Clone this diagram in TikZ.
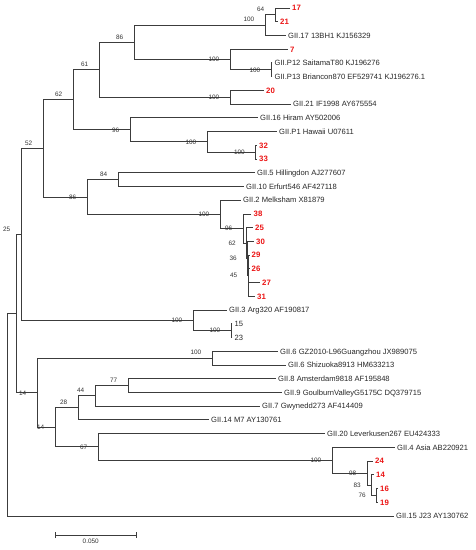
\documentclass[tikz,border=0pt]{standalone}
\usepackage{fontspec}
\setmainfont{Liberation Sans}
\usetikzlibrary{arrows.meta}
\definecolor{redc}{RGB}{235,20,20}
\definecolor{linec}{RGB}{60,60,60}
\tikzset{
  leaf/.style={anchor=west, inner xsep=2.5pt, inner ysep=0pt, text height=5.5pt, text depth=0pt,
    font=\fontsize{7.6}{9}\selectfont, text=black!85},
  rleaf/.style={leaf, font=\fontsize{7.8}{9}\selectfont\bfseries, text=redc, text height=5.6pt},
  bsup/.style={anchor=east, inner sep=0pt, xshift=-10.5pt, yshift=5.5pt,
    font=\fontsize{6.4}{7}\selectfont, text=black!80},
  bsdn/.style={bsup, yshift=-5.5pt},
  br/.style={draw=linec, line width=0.9pt, line cap=rect},
}
\begin{document}
\begin{tikzpicture}[x=1pt,y=-1pt]
\useasboundingbox (0,0) rectangle (476,550);
% ---------- leaves ----------
\node[rleaf] (l17)  at (289.5,8.0)   {17};
\node[rleaf] (l21)  at (277.5,21.7)  {21};
\node[leaf]  (lG17) at (285.5,35.5)  {GII.17 13BH1 KJ156329};
\node[rleaf] (l7)   at (287.5,49.2)  {7};
\node[leaf]  (lP12) at (272,62.9)    {GII.P12 SaitamaT80 KJ196276};
\node[leaf]  (lP13) at (272,76.7)    {GII.P13 Briancon870 EF529741 KJ196276.1};
\node[rleaf] (l20)  at (263.5,90.4)  {20};
\node[leaf]  (lG21) at (290.5,104.1) {GII.21 IF1998 AY675554};
\node[leaf]  (lG16) at (257.5,117.8) {GII.16 Hiram AY502006};
\node[leaf]  (lP1)  at (276.5,131.6) {GII.P1 Hawaii U07611};
\node[rleaf] (l32)  at (256.5,145.3) {32};
\node[rleaf] (l33)  at (256.5,159.0) {33};
\node[leaf]  (lG5)  at (254.5,172.8) {GII.5 Hillingdon AJ277607};
\node[leaf]  (lG10) at (243.5,186.5) {GII.10 Erfurt546 AF427118};
\node[leaf]  (lG2)  at (240.5,200.2) {GII.2 Melksham X81879};
\node[rleaf] (l38)  at (251,214.0)   {38};
\node[rleaf] (l25)  at (252.5,227.7) {25};
\node[rleaf] (l30)  at (253.5,241.4) {30};
\node[rleaf] (l29)  at (249,255.1)   {29};
\node[rleaf] (l26)  at (249,268.9)   {26};
\node[rleaf] (l27)  at (259.5,282.6) {27};
\node[rleaf] (l31)  at (254.5,296.3) {31};
\node[leaf]  (lG3)  at (226.5,310.1) {GII.3 Arg320 AF190817};
\node[leaf]  (l15)  at (232,323.8)   {15};
\node[leaf]  (l23)  at (232,337.5)   {23};
\node[leaf]  (lG6a) at (277.5,351.3) {GII.6 GZ2010-L96Guangzhou JX989075};
\node[leaf]  (lG6b) at (285.5,365.0) {GII.6 Shizuoka8913 HM633213};
\node[leaf]  (lG8)  at (275.5,378.7) {GII.8 Amsterdam9818 AF195848};
\node[leaf]  (lG9)  at (281.5,392.4) {GII.9 GoulburnValleyG5175C DQ379715};
\node[leaf]  (lG7)  at (259.5,406.2) {GII.7 Gwynedd273 AF414409};
\node[leaf]  (lG14) at (208.5,419.9) {GII.14 M7 AY130761};
\node[leaf]  (lG20) at (324.5,433.6) {GII.20 Leverkusen267 EU424333};
\node[leaf]  (lG4)  at (394.5,447.4) {GII.4 Asia AB220921};
\node[rleaf] (l24)  at (372.5,461.1) {24};
\node[rleaf] (l14)  at (373.5,474.8) {14};
\node[rleaf] (l16)  at (377.5,488.6) {16};
\node[rleaf] (l19)  at (377.5,502.3) {19};
\node[leaf]  (lG15) at (393.5,516.0) {GII.15 J23 AY130762};
% ---------- internal nodes ----------
\coordinate (root) at (7,414.8);
\coordinate (nA)   at (16,313.6);
\coordinate (n25)  at (21,234.4);
\coordinate (n52)  at (43,148.4);
\coordinate (n62)  at (73,99.8);
\coordinate (n61)  at (99,69.8);
\coordinate (n86a) at (134,42.3);
\coordinate (n100a) at (265,25.2);
\coordinate (n64)  at (275,14.85);
\coordinate (n100b) at (230,59.5);
\coordinate (n100c) at (271,69.8);
\coordinate (n100d) at (230,97.25);
\coordinate (n96)  at (130,129.8);
\coordinate (n100e) at (207,141.9);
\coordinate (n100f) at (255.5,152.2);
\coordinate (n86b) at (87,197);
\coordinate (n84)  at (118,179.6);
\coordinate (n100h) at (220,214.4);
\coordinate (n96c) at (243,228.5);
\coordinate (n62c) at (246.5,243.1);
\coordinate (n36c) at (247.5,258.6);
\coordinate (n45c) at (248,275.7);
\coordinate (nX1)  at (248.5,262);
\coordinate (nX2)  at (248.5,289.5);
\coordinate (n100g) at (193,320.4);
\coordinate (n100i) at (231,330.6);
\coordinate (n14a) at (37,392.8);
\coordinate (n100j) at (212,358.1);
\coordinate (n14b) at (55,427.4);
\coordinate (n28)  at (78,407.9);
\coordinate (n44)  at (95,395.9);
\coordinate (n77)  at (128,385.6);
\coordinate (n67)  at (98,446.9);
\coordinate (n100k) at (332,460.2);
\coordinate (n98)  at (367,473.1);
\coordinate (n83)  at (371.5,485.1);
\coordinate (n76)  at (376.5,495.4);
% ---------- branches ----------
\draw[br] (root) |- (nA);   \draw[br] (root) |- (lG15.west);
\draw[br] (nA) |- (n25);    \draw[br] (nA) |- (n14a);
\draw[br] (n25) |- (n52);   \draw[br] (n25) |- (n100g);
\draw[br] (n52) |- (n62);   \draw[br] (n52) |- (n86b);
\draw[br] (n62) |- (n61);   \draw[br] (n62) |- (n96);
\draw[br] (n61) |- (n86a);  \draw[br] (n61) |- (n100d);
\draw[br] (n86a) |- (n100a); \draw[br] (n86a) |- (n100b);
\draw[br] (n100a) |- (n64); \draw[br] (n100a) |- (lG17.west);
\draw[br] (n64) |- (l17.west); \draw[br] (n64) |- (l21.west);
\draw[br] (n100b) |- (l7.west); \draw[br] (n100b) |- (n100c);
\draw[br] (n100c) |- (lP12.west); \draw[br] (n100c) |- (lP13.west);
\draw[br] (n100d) |- (l20.west); \draw[br] (n100d) |- (lG21.west);
\draw[br] (n96) |- (lG16.west); \draw[br] (n96) |- (n100e);
\draw[br] (n100e) |- (lP1.west); \draw[br] (n100e) |- (n100f);
\draw[br] (n100f) |- (l32.west); \draw[br] (n100f) |- (l33.west);
\draw[br] (n86b) |- (n84);  \draw[br] (n86b) |- (n100h);
\draw[br] (n84) |- (lG5.west); \draw[br] (n84) |- (lG10.west);
\draw[br] (n100h) |- (lG2.west); \draw[br] (n100h) |- (n96c);
\draw[br] (n96c) |- (l38.west); \draw[br] (n96c) |- (n62c);
\draw[br] (n62c) |- (l25.west); \draw[br] (n62c) |- (n36c);
\draw[br] (n36c) |- (l30.west); \draw[br] (n36c) |- (n45c);
\draw[br] (n45c) |- (nX1);  \draw[br] (n45c) |- (nX2);
\draw[br] (nX1) |- (l29.west); \draw[br] (nX1) |- (l26.west);
\draw[br] (nX2) |- (l27.west); \draw[br] (nX2) |- (l31.west);
\draw[br] (n100g) |- (lG3.west); \draw[br] (n100g) |- (n100i);
\draw[br] (n100i) |- (l15.west); \draw[br] (n100i) |- (l23.west);
\draw[br] (n14a) |- (n100j); \draw[br] (n14a) |- (n14b);
\draw[br] (n100j) |- (lG6a.west); \draw[br] (n100j) |- (lG6b.west);
\draw[br] (n14b) |- (n28);  \draw[br] (n14b) |- (n67);
\draw[br] (n28) |- (n44);   \draw[br] (n28) |- (lG14.west);
\draw[br] (n44) |- (n77);   \draw[br] (n44) |- (lG7.west);
\draw[br] (n77) |- (lG8.west); \draw[br] (n77) |- (lG9.west);
\draw[br] (n67) |- (lG20.west); \draw[br] (n67) |- (n100k);
\draw[br] (n100k) |- (lG4.west); \draw[br] (n100k) |- (n98);
\draw[br] (n98) |- (l24.west); \draw[br] (n98) |- (n83);
\draw[br] (n83) |- (l14.west); \draw[br] (n83) |- (n76);
\draw[br] (n76) |- (l16.west); \draw[br] (n76) |- (l19.west);
% ---------- bootstrap values ----------
\node[bsup] (b25)  at (n25) {25};
\node[bsup] (b52)  at (n52) {52};
\node[bsup] (b62)  at (n62) {62};
\node[bsup] (b61)  at (n61) {61};
\node[bsup] (b86a) at (n86a) {86};
\node[bsup] (b100a) at (n100a) {100};
\node[bsup] (b64)  at (n64) {64};
\node[bsdn] (b100b) at (n100b) {100};
\node[bsdn] (b100c) at (n100c) {100};
\node[bsdn] (b100d) at (n100d) {100};
\node[bsdn] (b96)  at (n96) {96};
\node[bsdn] (b100e) at (n100e) {100};
\node[bsdn] (b100f) at (n100f) {100};
\node[bsdn] (b86b) at (n86b) {86};
\node[bsup] (b84)  at (n84) {84};
\node[bsdn] (b100h) at (n100h) {100};
\node[bsdn] (b96c) at (n96c) {96};
\node[bsdn] (b62c) at (n62c) {62};
\node[bsdn] (b36c) at (n36c) {36};
\node[bsdn] (b45c) at (n45c) {45};
\node[bsdn] (b100g) at (n100g) {100};
\node[bsdn] (b100i) at (n100i) {100};
\node[bsdn] (b14a) at (n14a) {14};
\node[bsup] (b100j) at (n100j) {100};
\node[bsdn] (b14b) at (n14b) {14};
\node[bsup] (b28)  at (n28) {28};
\node[bsup] (b44)  at (n44) {44};
\node[bsup] (b77)  at (n77) {77};
\node[bsdn] (b67)  at (n67) {67};
\node[bsdn] (b100k) at (n100k) {100};
\node[bsdn] (b98)  at (n98) {98};
\node[bsdn] (b83)  at (n83) {83};
\node[bsdn] (b76)  at (n76) {76};
% ---------- scale bar ----------
\coordinate (sbL) at (54.5,535);
\coordinate (sbR) at (137,535);
\draw[br, line cap=butt, {Bar[width=6pt]}-{Bar[width=6pt]}] (sbL) -- (sbR);
\node[font=\fontsize{6.4}{7}\selectfont, text=black!80, inner sep=0pt] (sblab) at (90.7,541.5) {0.050};
\end{tikzpicture}
\end{document}
